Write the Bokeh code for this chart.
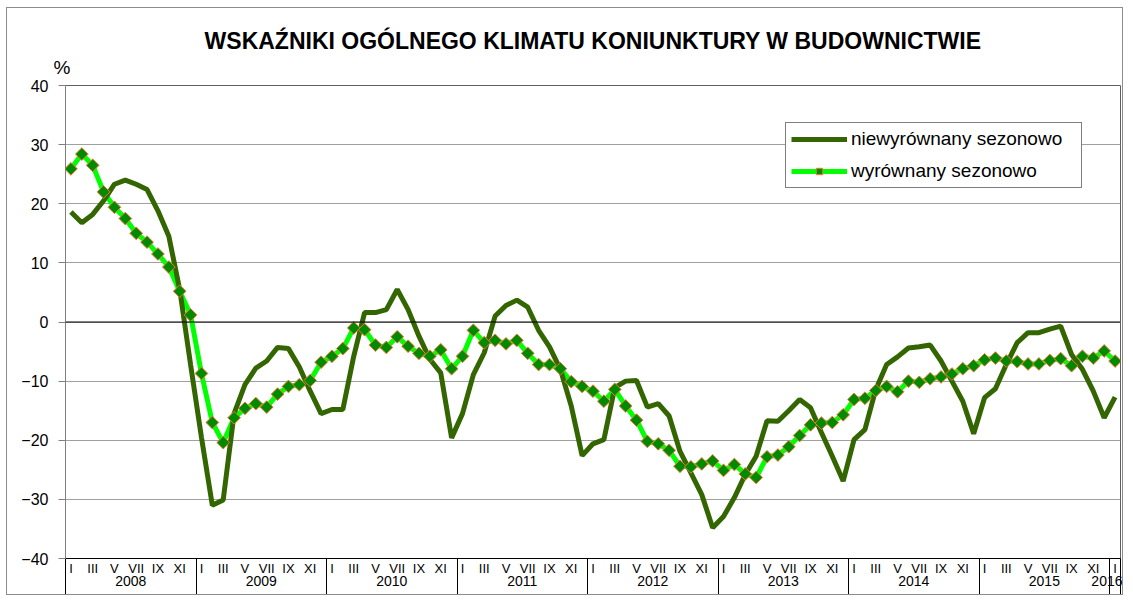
import numpy as np
from bokeh.plotting import figure
from bokeh.models import (Range1d, FixedTicker, LinearAxis, Span, Legend, LegendItem,
                          Title, ColumnDataSource)
from bokeh.embed import file_html
from bokeh.resources import INLINE

TITLE = "WSKAŹNIKI OGÓLNEGO KLIMATU KONIUNKTURY W BUDOWNICTWIE"
Y_UNIT = "%"
YEARS = ["2008", "2009", "2010", "2011", "2012", "2013", "2014", "2015", "2016"]
MONTHS = ["I", "II", "III", "IV", "V", "VI", "VII", "VIII", "IX", "X", "XI", "XII"]
SERIES_NAMES = ["niewyrównany sezonowo", "wyrównany sezonowo"]

niewyrownany = [
    18.6, 16.8, 18.2, 20.5, 23.3, 24.0, 23.3, 22.4, 18.8, 14.5, 5.5, -7.2,
    -19.5, -31.0, -30.1, -15.5, -10.6, -7.8, -6.6, -4.3, -4.5, -7.6, -11.7, -15.5,
    -14.8, -14.8, -5.8, 1.6, 1.6, 2.1, 5.5, 2.1, -2.4, -6.3, -8.6, -19.6,
    -15.5, -8.9, -5.2, 1.0, 2.8, 3.7, 2.5, -1.4, -4.2, -8.0, -14.2, -22.6,
    -20.6, -19.9, -11.1, -10.0, -9.9, -14.4, -13.8, -15.9, -21.9, -25.5, -29.2, -34.8,
    -32.9, -29.7, -25.8, -22.7, -16.7, -16.8, -15.0, -13.1, -14.5, -18.7, -22.7, -26.9,
    -19.9, -18.2, -11.4, -7.2, -5.9, -4.4, -4.2, -3.9, -6.6, -10.0, -13.4, -18.9,
    -12.8, -11.3, -7.2, -3.5, -1.8, -1.8, -1.2, -0.7, -5.5, -8.0, -11.7, -16.2,
    -12.7,
]
wyrownany = [
    25.9, 28.4, 26.5, 22.0, 19.4, 17.5, 15.0, 13.5, 11.5, 9.3, 5.2, 1.2,
    -8.7, -17.0, -20.4, -16.2, -14.6, -13.8, -14.4, -12.2, -10.9, -10.6, -9.9, -6.8,
    -5.8, -4.5, -1.0, -1.3, -3.9, -4.3, -2.5, -4.1, -5.3, -5.8, -4.7, -7.9,
    -5.8, -1.4, -3.5, -3.1, -3.7, -3.1, -5.3, -7.2, -7.2, -7.9, -10.1, -10.9,
    -11.7, -13.4, -11.4, -14.2, -16.6, -20.2, -20.6, -21.7, -24.4, -24.5, -24.0, -23.5,
    -25.1, -24.1, -25.7, -26.3, -22.8, -22.5, -21.1, -19.2, -17.4, -17.1, -17.0, -15.7,
    -13.1, -12.9, -11.6, -10.9, -11.8, -10.0, -10.2, -9.6, -9.3, -8.8, -7.9, -7.4,
    -6.4, -6.1, -6.6, -6.7, -7.1, -7.1, -6.5, -6.2, -7.4, -5.8, -6.1, -4.9,
    -6.6,
]
Y_TICKS = [-40, -30, -20, -10, 0, 10, 20, 30, 40]

n = len(wyrownany)
x = list(range(n))
src = ColumnDataSource(dict(x=x, raw=niewyrownany, adj=wyrownany))

FONT = "Liberation Sans"

p = figure(frame_width=1055, frame_height=473, output_backend="svg", toolbar_location=None,
           x_range=Range1d(-0.5, n - 0.5), y_range=Range1d(-40, 40),
           min_border_left=58, min_border_right=2, min_border_top=77, min_border_bottom=36,
           x_axis_type=None)
p.styles = {"border": "1px solid #8c8c8c", "margin": "7px 0px 0px 6px"}

p.title.text = TITLE
p.title.align = "center"
p.title.text_font = FONT
p.title.text_font_size = "23px"
p.title.text_font_style = "bold"
p.title.text_color = "black"
p.title.standoff = -12

p.add_layout(Title(text=Y_UNIT, align="left", offset=-12, standoff=15,
                   text_font=FONT, text_font_size="19px", text_font_style="normal",
                   text_color="black"), "above")

p.outline_line_color = "#606060"
p.outline_line_width = 1
p.background_fill_color = "white"
p.border_fill_color = "white"

# y axis
p.yaxis.ticker = FixedTicker(ticks=Y_TICKS)
p.yaxis.axis_line_color = "#808080"
p.yaxis.major_tick_line_color = "#808080"
p.yaxis.major_tick_in = 0
p.yaxis.major_tick_out = 7
p.yaxis.minor_tick_line_color = None
p.yaxis.major_label_text_font = FONT
p.yaxis.major_label_text_font_size = "16px"
p.yaxis.major_label_text_color = "black"
p.yaxis.major_label_standoff = 10
p.ygrid.ticker = FixedTicker(ticks=Y_TICKS)
p.ygrid.grid_line_color = "#a0a0a0"
p.ygrid.grid_line_width = 1
p.xgrid.grid_line_color = None

# x axis: months (odd months labelled) + year separators as long minor ticks
month_ticks = [i for i in x if i % 2 == 0]
year_bounds = [i - 0.5 for i in x if i % 12 == 0] + [n - 0.5]
month_axis = LinearAxis(
    ticker=FixedTicker(ticks=month_ticks, minor_ticks=year_bounds),
    major_label_overrides={i: MONTHS[i % 12] for i in month_ticks},
    axis_line_color="black", major_tick_line_color=None,
    major_tick_in=0, major_tick_out=0,
    minor_tick_line_color="black", minor_tick_in=0, minor_tick_out=44,
    major_label_text_font=FONT, major_label_text_font_size="13px",
    major_label_text_color="black", major_label_standoff=-42,
)
p.add_layout(month_axis, "below")

year_centers = []
for k, yr in enumerate(YEARS):
    idx = [i for i in x if i // 12 == k]
    year_centers.append((idx[0] + idx[-1]) / 2)
year_axis = LinearAxis(
    ticker=FixedTicker(ticks=year_centers),
    major_label_overrides={c: YEARS[k] for k, c in enumerate(year_centers)},
    axis_line_color=None, major_tick_line_color=None, minor_tick_line_color=None,
    major_tick_in=0, major_tick_out=0,
    major_label_text_font=FONT, major_label_text_font_size="14px",
    major_label_text_color="black", major_label_standoff=-3,
)
p.add_layout(year_axis, "below")

p.add_layout(Span(location=0, dimension="width", line_color="black", line_width=1))

# series
r_adj_line = p.line("x", "adj", source=src, line_color="#00ff00", line_width=5)
r_raw = p.line("x", "raw", source=src, line_color="#336600", line_width=5)
r_adj_pts = p.scatter("x", "adj", source=src, marker="square", angle=np.pi / 4, size=9,
                      fill_color="#008a00", line_color="#f07830", line_width=1)

legend = Legend(items=[
    LegendItem(label=SERIES_NAMES[0], renderers=[r_raw]),
    LegendItem(label=SERIES_NAMES[1], renderers=[r_adj_line, r_adj_pts]),
], location=(720, 370))
legend.label_text_font = FONT
legend.label_text_font_size = "19px"
legend.label_text_color = "black"
legend.border_line_color = "black"
legend.border_line_width = 1
legend.background_fill_color = "white"
legend.background_fill_alpha = 1
legend.glyph_width = 56
legend.glyph_height = 16
legend.label_height = 16
legend.spacing = 10
legend.padding = 5
legend.label_standoff = 4
legend.label_width = 225
p.add_layout(legend)

open("out.html", "w").write(file_html(p, INLINE))
